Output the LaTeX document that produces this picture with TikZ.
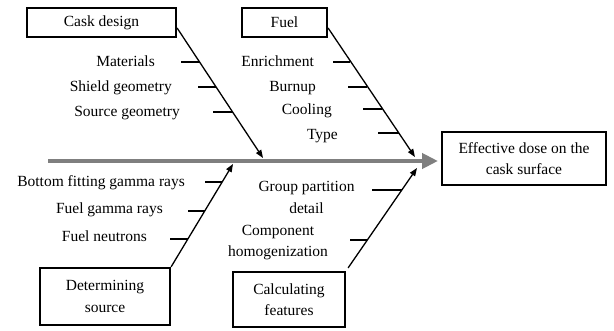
\documentclass[tikz,border=0pt]{standalone}
\usepackage{fontspec}
\setmainfont{Liberation Serif}
\usetikzlibrary{arrows.meta}
\definecolor{spinegray}{RGB}{127,127,127}
\begin{document}
\begin{tikzpicture}[x=1pt,y=-1pt,
  font=\fontsize{15.5}{21.5}\selectfont,
  box/.style={draw,line width=2.2pt,inner sep=0pt,align=center},
  lbl/.style={inner sep=0pt,anchor=east,text height=11pt,text depth=1pt},
  mlbl/.style={inner sep=0pt,align=center},
  bone/.style={line width=1.3pt,-{Triangle[length=8pt,width=6pt]}},
  tick/.style={line width=1.3pt},
  spine/.style={line width=4.5pt,draw=spinegray,-{Triangle[length=16pt,width=15pt]}}]
\useasboundingbox (0,0) rectangle (614,331);

% boxes
\node[box,minimum width=149pt,minimum height=29pt] (cask) at (101.5,22.5) {Cask design};
\node[box,minimum width=85pt,minimum height=29pt] (fuel) at (284.5,22.5) {Fuel};
\node[box,minimum width=164pt,minimum height=53pt] (dose) at (524,158.5) {Effective dose on the\\cask surface};
\node[box,minimum width=130pt,minimum height=57pt] (det) at (105,296.5) {Determining\\source};
\node[box,minimum width=112pt,minimum height=55pt] (calc) at (289,299.5) {Calculating\\features};

% spine
\coordinate (tail) at (48,161);
\coordinate (head) at (438,161);
\draw[spine] (tail) -- (head);

% branch tips
\coordinate (ct) at (263,158);
\coordinate (ft) at (415,157);
\coordinate (dt) at (233,164);
\coordinate (kt) at (417,168);
\draw[bone] ([yshift=-5.5pt]cask.east) -- (ct);
\draw[bone] ([yshift=-5.5pt]fuel.east) -- (ft);
\draw[bone] (det.north east) -- (dt);
\draw[bone] ([xshift=2pt,yshift=3pt]calc.north east) -- (kt);

% labels
\node[lbl] (mat) at (155,62) {Materials};
\node[lbl] (shg) at (172,87) {Shield geometry};
\node[lbl] (sog) at (180,112) {Source geometry};
\node[lbl] (enr) at (314,62) {Enrichment};
\node[lbl] (bur) at (316,87) {Burnup};
\node[lbl] (coo) at (332,110) {Cooling};
\node[lbl] (typ) at (338,135) {Type};
\node[lbl] (bfg) at (185,182) {Bottom fitting gamma rays};
\node[lbl] (fgr) at (163,209) {Fuel gamma rays};
\node[lbl] (fne) at (147,237) {Fuel neutrons};
\node[mlbl] (gpd) at (306.5,197.5) {Group partition\\detail};
\node[mlbl] (chm) at (278,242.5) {Component\\homogenization};

% ticks
\coordinate (t1a) at (181,62);   \coordinate (t1b) at (199.5,62);
\coordinate (t2a) at (198,87);   \coordinate (t2b) at (216,87);
\coordinate (t3a) at (213,112);  \coordinate (t3b) at (232.6,112);
\coordinate (t4a) at (333,62);   \coordinate (t4b) at (350.2,62);
\coordinate (t5a) at (348,87);   \coordinate (t5b) at (367.2,87);
\coordinate (t6a) at (363,109);  \coordinate (t6b) at (382.3,109);
\coordinate (t7a) at (378,133);  \coordinate (t7b) at (398.6,133);
\coordinate (t8a) at (205,182);  \coordinate (t8b) at (222.1,182);
\coordinate (t9a) at (188,211);  \coordinate (t9b) at (204.5,211);
\coordinate (t10a) at (170,239); \coordinate (t10b) at (187.6,239);
\coordinate (t11a) at (372,190); \coordinate (t11b) at (401.8,190);
\coordinate (t12a) at (350,240); \coordinate (t12b) at (367.3,240);
\foreach \i in {1,...,12} \draw[tick] (t\i a) -- (t\i b);
\end{tikzpicture}
\end{document}
